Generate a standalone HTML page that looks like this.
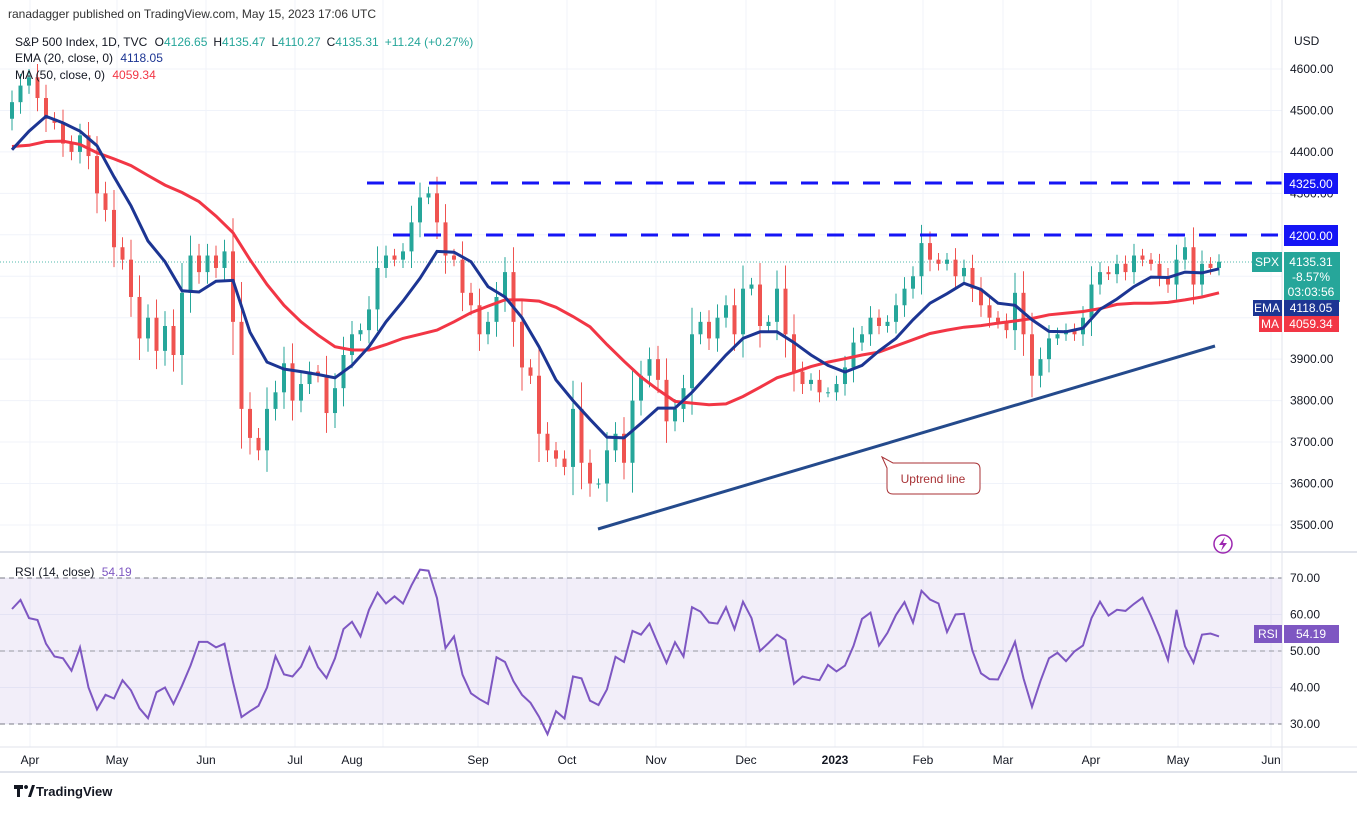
<!DOCTYPE html>
<html><head><meta charset="utf-8">
<style>
html,body{margin:0;padding:0;background:#fff;}
body{width:1357px;height:809px;overflow:hidden;font-family:"Liberation Sans",sans-serif;}
svg text{font-family:"Liberation Sans",sans-serif;}
</style></head>
<body>
<svg id="chart" width="1357" height="809" viewBox="0 0 1357 809" xmlns="http://www.w3.org/2000/svg">
<rect x="0" y="0" width="1357" height="809" fill="#fff"/>
<g id="grid"></g>
<rect x="0" y="578" width="1282" height="146" fill="#7e57c2" fill-opacity="0.1"/>
<g id="rsiLines"></g>
<line x1="0" y1="262" x2="1282" y2="262" stroke="#26a69a" stroke-width="1" stroke-dasharray="1,2" stroke-opacity="0.8"/>
<g id="candles"></g>
<path id="maLine" fill="none" stroke="#f23645" stroke-width="3"/>
<path id="emaLine" fill="none" stroke="#1c3593" stroke-width="3"/>
<path id="rsiLine" fill="none" stroke="#7e57c2" stroke-width="2"/>
<line x1="367" y1="183" x2="1282" y2="183" stroke="#1515f5" stroke-width="3" stroke-dasharray="17,14"/>
<line x1="393" y1="235" x2="1282" y2="235" stroke="#1515f5" stroke-width="3" stroke-dasharray="17,14"/>
<line x1="598" y1="529" x2="1215" y2="346" stroke="#244a8c" stroke-width="3"/>
<g>
<path d="M882,457 L893,463 L974,463 Q980,463 980,469 L980,488 Q980,494 974,494 L893,494 Q887,494 887,488 L887,468 Z" fill="#fff" stroke="#a83236" stroke-width="1"/>
<text x="933" y="483" text-anchor="middle" font-size="12" fill="#a83236">Uptrend line</text>
</g>
<line x1="1282" y1="0" x2="1282" y2="772" stroke="#e0e3eb" stroke-width="1"/>
<line x1="0" y1="552" x2="1357" y2="552" stroke="#e0e3eb" stroke-width="2"/>
<line x1="0" y1="747" x2="1357" y2="747" stroke="#e0e3eb" stroke-width="1"/>
<line x1="0" y1="772" x2="1357" y2="772" stroke="#e0e3eb" stroke-width="2"/>
<g id="priceAxis"></g>
<g id="rsiAxis"></g>
<g id="timeAxis"></g>
<text x="8" y="18" font-size="12" fill="#333">ranadagger published on TradingView.com, May 15, 2023 17:06 UTC</text>
<text x="15" y="46" font-size="12" fill="#131722">S&amp;P 500 Index, 1D, TVC <tspan fill="#131722" dx="4">O</tspan><tspan fill="#26a69a">4126.65</tspan><tspan dx="6">H</tspan><tspan fill="#26a69a">4135.47</tspan><tspan dx="6">L</tspan><tspan fill="#26a69a">4110.27</tspan><tspan dx="6">C</tspan><tspan fill="#26a69a">4135.31</tspan><tspan dx="6" fill="#26a69a">+11.24 (+0.27%)</tspan></text>
<text x="15" y="62" font-size="12" fill="#131722">EMA (20, close, 0) <tspan dx="4" fill="#1c3593">4118.05</tspan></text>
<text x="15" y="79" font-size="12" fill="#131722">MA (50, close, 0) <tspan dx="4" fill="#f23645">4059.34</tspan></text>
<text x="15" y="576" font-size="12" fill="#131722">RSI (14, close) <tspan dx="4" fill="#7e57c2">54.19</tspan></text>
<text x="1294" y="45" font-size="12" fill="#131722">USD</text>
<g><rect x="1284" y="173" width="54" height="21" fill="#1515f5"/><text x="1311" y="188" text-anchor="middle" font-size="12" fill="#fff">4325.00</text></g>
<g><rect x="1284" y="225" width="54" height="21" fill="#1515f5"/><text x="1311" y="240" text-anchor="middle" font-size="12" fill="#fff">4200.00</text></g>
<g><rect x="1252" y="252" width="30" height="20" fill="#26a69a"/><text x="1267" y="266" text-anchor="middle" font-size="12" fill="#fff">SPX</text>
<rect x="1284" y="252" width="56" height="50" fill="#26a69a"/><text x="1311" y="266" text-anchor="middle" font-size="12" fill="#fff">4135.31</text><text x="1311" y="281" text-anchor="middle" font-size="12" fill="#fff">-8.57%</text><text x="1311" y="296" text-anchor="middle" font-size="12" fill="#fff">03:03:56</text></g>
<g><rect x="1253" y="300" width="29" height="16" fill="#1c3593"/><text x="1267" y="312" text-anchor="middle" font-size="12" fill="#fff">EMA</text><rect x="1284" y="300" width="55" height="16" fill="#1c3593"/><text x="1311" y="312" text-anchor="middle" font-size="12" fill="#fff">4118.05</text></g>
<g><rect x="1259" y="316" width="23" height="16" fill="#f23645"/><text x="1270" y="328" text-anchor="middle" font-size="12" fill="#fff">MA</text><rect x="1284" y="316" width="55" height="16" fill="#f23645"/><text x="1311" y="328" text-anchor="middle" font-size="12" fill="#fff">4059.34</text></g>
<g><rect x="1254" y="625" width="28" height="18" fill="#7e57c2"/><text x="1268" y="638" text-anchor="middle" font-size="12" fill="#fff">RSI</text><rect x="1284" y="625" width="55" height="18" fill="#7e57c2"/><text x="1311" y="638" text-anchor="middle" font-size="12" fill="#fff">54.19</text></g>
<g><circle cx="1223" cy="544" r="9" fill="none" stroke="#9c27b0" stroke-width="1.5"/><path d="M1225,537 L1219,545 L1223,545 L1221,551 L1227,543 L1223,543 Z" fill="#9c27b0"/></g>
<g><path d="M14,785 h9 v4 h-3 v8 h-3 v-8 h-3 Z M26,789 a2,2 0 1,1 0.1,0 M28,797 l4,-12 h3 l-4,12 Z" fill="#131722"/><text x="36" y="796" font-size="13" font-weight="bold" fill="#131722">TradingView</text></g>
</svg>
<script>
const closes = [4520,4560,4580,4530,4480,4470,4420,4400,4440,4390,4300,4260,4170,4140,4050,3950,4000,3920,3980,3910,4060,4150,4110,4150,4120,4160,3990,3780,3710,3680,3780,3820,3890,3800,3840,3870,3860,3770,3830,3910,3960,3970,4020,4120,4150,4140,4160,4230,4290,4300,4230,4150,4140,4060,4030,3960,3990,4050,4110,3990,3880,3860,3720,3680,3660,3640,3780,3650,3600,3600,3680,3720,3650,3800,3860,3900,3850,3750,3780,3830,3960,3990,3950,4000,4030,3960,4070,4080,3980,3990,4070,3960,3870,3840,3850,3820,3820,3840,3880,3940,3960,4000,3980,3990,4030,4070,4100,4180,4140,4130,4140,4100,4120,4070,4030,4000,3990,3970,4060,3960,3860,3900,3950,3960,3970,3960,4000,4080,4110,4105,4130,4110,4150,4140,4130,4100,4080,4140,4170,4080,4130,4120,4135];
const firstOpen = 4480;
const ema20 = [4405,4450,4486,4470,4450,4415,4340,4270,4185,4135,4065,4062,4088,4090,3965,3893,3876,3870,3863,3855,3885,3930,3990,4040,4095,4160,4158,4135,4075,4050,4000,3930,3850,3800,3755,3712,3710,3745,3782,3782,3820,3865,3910,3950,3966,3966,3940,3910,3885,3869,3885,3920,3950,3995,4035,4058,4083,4068,4035,4030,3995,3967,3966,3975,4020,4045,4075,4098,4097,4110,4108,4118];
const ma50 = [4413,4416,4425,4426,4418,4398,4383,4367,4343,4320,4302,4280,4245,4205,4140,4080,4030,3990,3958,3930,3922,3922,3935,3950,3960,3970,3990,4012,4028,4043,4043,4040,4025,4003,3978,3935,3895,3857,3826,3798,3794,3790,3792,3810,3832,3855,3868,3882,3893,3901,3910,3917,3932,3947,3962,3970,3977,3981,3987,3992,3998,4007,4011,4015,4022,4032,4035,4035,4037,4043,4050,4060];
const rsi = [61.5,64,59,58.5,52,48.5,48,44.6,51,40,34,38,37,42,39.2,34.3,31.6,38.7,40,35.5,40.5,46,52.5,52.5,51,52,41.5,31.9,33.5,35,40,48.6,43.6,43,45.7,51,45.6,42.6,48,56,58,54,61.3,66,63,65,63,68,72.3,72,64.5,50.8,54,43.5,38.4,36.8,35.5,48.3,47,41.7,38,35.8,32,27.2,33.5,31.5,43,42.5,36.4,35.2,39.5,48.4,47,55.5,54.5,57.5,52,46.7,52.4,48.5,62,60.8,57.8,57.5,62,56,63.5,59,50,52.2,54.5,53,41,43,42.4,42,46.2,44.4,46,51.4,58.8,60.5,51.5,55,59.9,63.4,57.8,66.5,64.1,63,55.2,60,60.2,50,43.9,42.3,42.2,47,52.5,42.5,34.7,41.8,48,49.5,47.2,49.9,51.5,59,63.5,59.7,61.3,61,62.9,64.6,59.6,54,47.5,61.3,51.3,46.8,54.5,54.8,54];
const priceTicks = [4600,4500,4400,4300,4200,4100,4000,3900,3800,3700,3600,3500];
const rsiTicks = [70,60,50,40,30];
const monthLabels = ["Apr","May","Jun","Jul","Aug","Sep","Oct","Nov","Dec","2023","Feb","Mar","Apr","May","Jun"];
const monthPos = [30,117,206,295,352,478,567,656,746,835,923,1003,1091,1178,1271];

const NS="http://www.w3.org/2000/svg";
const nC = closes.length;
function xOf(i){ return 12 + i*(1207/(nC-1)); }
function yP(p){ return 69 + (4600-p)*0.4145; }
function yR(v){ return 578 + (70-v)*3.65; }
function mk(tag, attrs, parent){ const e=document.createElementNS(NS,tag); for(const k in attrs) e.setAttribute(k,attrs[k]); parent.appendChild(e); return e; }

const grid=document.getElementById('grid');
priceTicks.forEach(p=>{ mk('line',{x1:0,x2:1282,y1:yP(p),y2:yP(p),stroke:'#f0f3fa','stroke-width':1},grid); });
rsiTicks.forEach(v=>{ mk('line',{x1:0,x2:1282,y1:yR(v),y2:yR(v),stroke:'#f0f3fa','stroke-width':1},grid); });
monthPos.forEach((x,i)=>{ const gx = monthLabels[i]==="Aug" ? 383 : x; mk('line',{x1:gx,x2:gx,y1:0,y2:747,stroke:'#f0f3fa','stroke-width':1},grid); });

const rl=document.getElementById('rsiLines');
[70,50,30].forEach(v=>{ mk('line',{x1:0,x2:1282,y1:yR(v),y2:yR(v),stroke: v===50?'#9598a1':'#787b86','stroke-width':1,'stroke-dasharray':'5,4'},rl); });

const cg=document.getElementById('candles');
closes.forEach((c,i)=>{
  const o = i===0 ? firstOpen : closes[i-1];
  const up = c>=o;
  const col = up ? '#26a69a' : '#ef5350';
  const wick = 12 + Math.abs(c-o)*0.4;
  const hi = Math.max(o,c)+wick, lo = Math.min(o,c)-wick;
  const x = xOf(i);
  const g = mk('g',{},cg);
  
  
  mk('line',{x1:x,x2:x,y1:yP(hi),y2:yP(lo),stroke:col,'stroke-width':1},g);
  const yt=yP(Math.max(o,c)), yb=yP(Math.min(o,c));
  mk('rect',{x:x-2,y:yt,width:4,height:Math.max(1,yb-yt),fill:col},g);
});

function seriesPath(arr){ return arr.map((v,k)=>(k?'L':'M')+xOf(Math.min(2*k,nC-1)).toFixed(1)+','+yP(v).toFixed(1)).join(' '); }
document.getElementById('emaLine').setAttribute('d',seriesPath(ema20));
document.getElementById('maLine').setAttribute('d',seriesPath(ma50));
document.getElementById('rsiLine').setAttribute('d',rsi.map((v,i)=>(i?'L':'M')+xOf(i).toFixed(1)+','+yR(v).toFixed(1)).join(' '));

const pa=document.getElementById('priceAxis');
priceTicks.forEach(p=>{ const t=mk('text',{x:1290,y:yP(p)+4,'font-size':12,fill:'#131722'},pa); t.textContent=p.toFixed(2);
  
   });
const ra=document.getElementById('rsiAxis');
rsiTicks.forEach(v=>{ const t=mk('text',{x:1290,y:yR(v)+4,'font-size':12,fill:'#131722'},ra); t.textContent=v.toFixed(2);
  
   });
const ta=document.getElementById('timeAxis');
monthLabels.forEach((m,i)=>{ const t=mk('text',{x:monthPos[i],y:764,'font-size':12,'text-anchor':'middle',fill:'#131722','font-weight': m==='2023'?'bold':'normal'},ta); t.textContent=m;
  
   });
</script>
</body></html>
